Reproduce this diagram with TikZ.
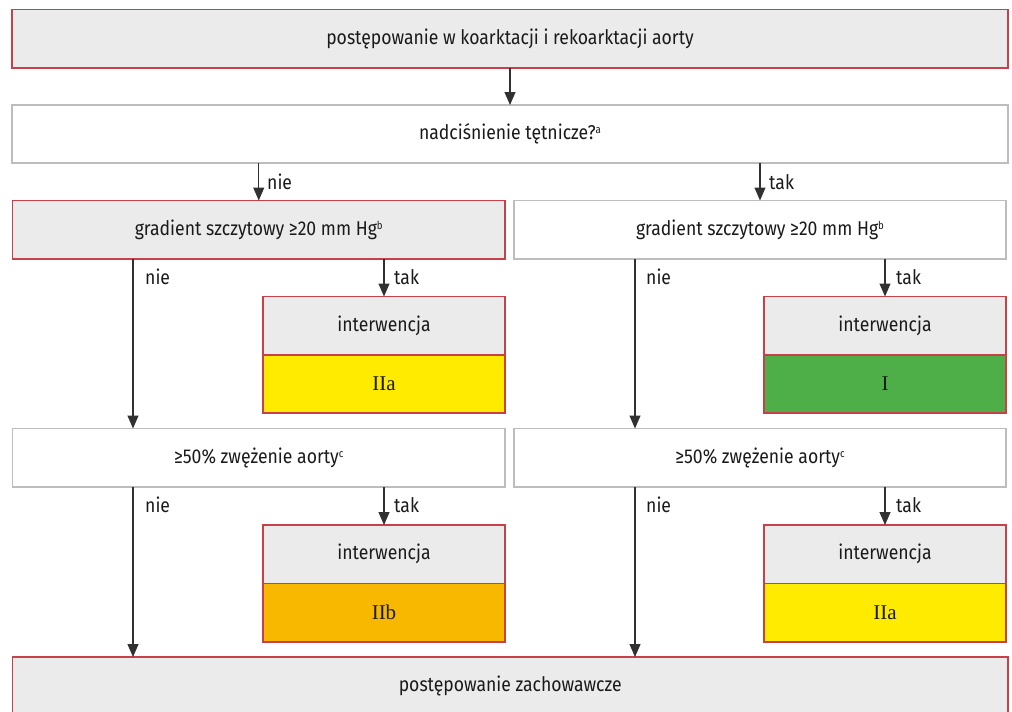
\documentclass[tikz,border=0pt]{standalone}
\usepackage{fontspec}
\setmainfont{Fira Sans}[FakeStretch=0.88]
\newfontfamily\romfont{Liberation Serif}
\usetikzlibrary{arrows.meta}
\definecolor{boxgray}{HTML}{EBEBEB}
\definecolor{boxred}{HTML}{C8404A}
\definecolor{linegray}{HTML}{BDBDBD}
\definecolor{classyellow}{HTML}{FFEB00}
\definecolor{classgreen}{HTML}{4EAF48}
\definecolor{classorange}{HTML}{F9B800}
\definecolor{txt}{HTML}{1A1A1A}
\newcommand{\supx}[1]{\raisebox{0.55ex}{\fontsize{11}{12}\selectfont #1}}
\tikzset{
  base/.style={rectangle, inner sep=0pt, outer sep=0pt, anchor=north west, text=txt,
    font=\fontsize{20}{24}\selectfont},
  redbox/.style={base, draw=boxred, fill=boxgray, line width=1.3pt},
  whitebox/.style={base, draw=linegray, fill=white, line width=1.3pt},
  classbox/.style={base, draw=boxred, line width=1.3pt, font=\romfont\fontsize{21}{24}\selectfont},
  arr/.style={draw=txt!90, line width=1.1pt, -{Triangle[length=13pt,width=11pt]}},
  lbl/.style={text=txt, font=\fontsize{20}{24}\selectfont, inner sep=0pt, anchor=west},
}
\begin{document}
\begin{tikzpicture}[x=1pt,y=-1pt]
\useasboundingbox (0,0) rectangle (1012,712);
\clip (0,0) rectangle (1012,712);
% boxes
\node[redbox, minimum width=996pt, minimum height=58.5pt] (top) at (12,9.5) {postępowanie w koarktacji i rekoarktacji aorty};
\node[whitebox, minimum width=996pt, minimum height=58pt] (q1) at (12,105) {nadciśnienie tętnicze?\supx{a}};
\node[redbox, minimum width=492.5pt, minimum height=58.5pt] (gL) at (12.5,200.5) {gradient szczytowy ≥20 mm Hg\supx{b}};
\node[whitebox, minimum width=492pt, minimum height=58.5pt] (gR) at (514,200.5) {gradient szczytowy ≥20 mm Hg\supx{b}};
\node[redbox, minimum width=242pt, minimum height=58.5pt] (iL1) at (263,296.5) {interwencja};
\node[classbox, fill=classyellow, minimum width=242pt, minimum height=58pt] (cL1) at (263,355) {IIa};
\node[redbox, minimum width=242pt, minimum height=58.5pt] (iR1) at (764,296.5) {interwencja};
\node[classbox, fill=classgreen, minimum width=242pt, minimum height=58pt] (cR1) at (764,355) {I};
\node[whitebox, minimum width=492.5pt, minimum height=58.5pt] (sL) at (12.5,428.5) {≥50\% zwężenie aorty\supx{c}};
\node[whitebox, minimum width=492pt, minimum height=58.5pt] (sR) at (514,428.5) {≥50\% zwężenie aorty\supx{c}};
\node[redbox, minimum width=242pt, minimum height=58.5pt] (iL2) at (263,525) {interwencja};
\node[classbox, fill=classorange, minimum width=242pt, minimum height=58.5pt] (cL2) at (263,583.5) {IIb};
\node[redbox, minimum width=242pt, minimum height=58.5pt] (iR2) at (764,525) {interwencja};
\node[classbox, fill=classyellow, minimum width=242pt, minimum height=58.5pt] (cR2) at (764,583.5) {IIa};
\node[redbox, minimum width=995.5pt, minimum height=58.5pt] (bot) at (12.5,657) {postępowanie zachowawcze};
% branch points on box edges
\coordinate (gLn) at ([xshift=120.5pt]gL.south west);
\coordinate (gRn) at ([xshift=121pt]gR.south west);
\coordinate (sLn) at ([xshift=120.5pt]sL.south west);
\coordinate (sRn) at ([xshift=121pt]sR.south west);
% connectors
\draw[arr] (top.south) -- (q1.north);
\draw[arr] (q1.south -| gL.north) -- (gL.north);
\draw[arr] (q1.south -| gR.north) -- (gR.north);
\draw[arr] (gLn) -- (sL.north -| gLn);
\draw[arr] (gL.south -| iL1.north) -- (iL1.north);
\draw[arr] (gRn) -- (sR.north -| gRn);
\draw[arr] (gR.south -| iR1.north) -- (iR1.north);
\draw[arr] (sLn) -- (bot.north -| sLn);
\draw[arr] (sL.south -| iL2.north) -- (iL2.north);
\draw[arr] (sRn) -- (bot.north -| sRn);
\draw[arr] (sR.south -| iR2.north) -- (iR2.north);
% labels
\node[lbl] (n1) at (267,182) {nie};
\node[lbl] (t1) at (769,182) {tak};
\node[lbl] (n2) at (145,277) {nie};
\node[lbl] (t2) at (394,277) {tak};
\node[lbl] (n3) at (646,277) {nie};
\node[lbl] (t3) at (896,277) {tak};
\node[lbl] (n4) at (145,505) {nie};
\node[lbl] (t4) at (394,505) {tak};
\node[lbl] (n5) at (646,505) {nie};
\node[lbl] (t5) at (896,505) {tak};
\end{tikzpicture}
\end{document}
